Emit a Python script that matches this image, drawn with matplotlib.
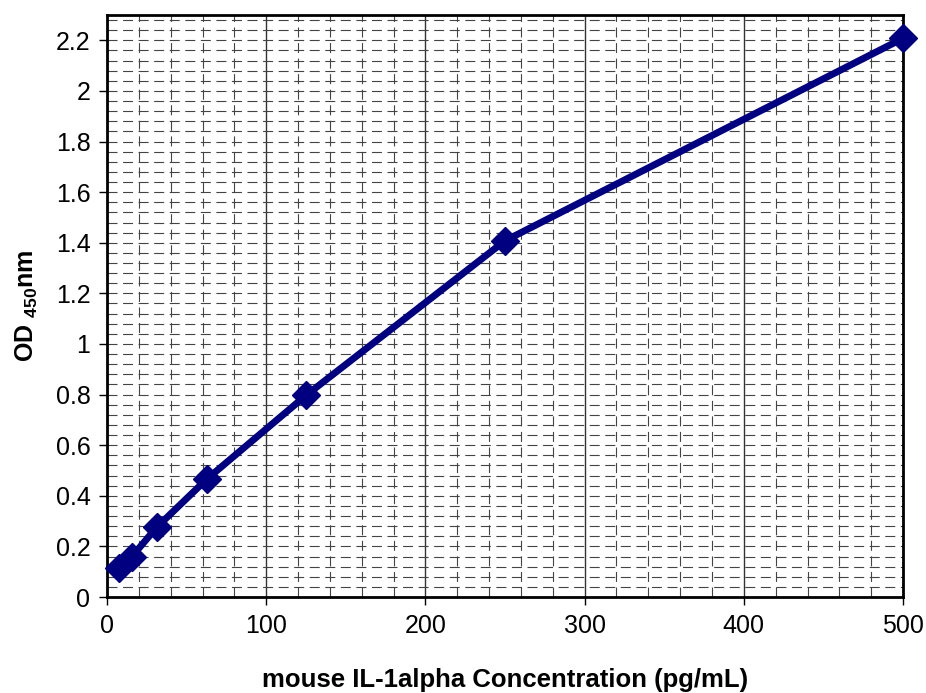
import matplotlib
matplotlib.use('Agg')
from matplotlib import pyplot as plt
from matplotlib.ticker import MultipleLocator
import numpy as np

plt.rcParams['font.family'] = ['Liberation Sans', 'DejaVu Sans']
plt.rcParams['mathtext.fontset'] = 'custom'
plt.rcParams['mathtext.rm'] = 'Liberation Sans'
plt.rcParams['mathtext.bf'] = 'Liberation Sans:bold'

# standard curve data
conc = [7.8, 15.6, 31.25, 62.5, 125, 250, 500]
od = [0.114, 0.160, 0.276, 0.465, 0.797, 1.408, 2.208]
yticks = [0, 0.2, 0.4, 0.6, 0.8, 1, 1.2, 1.4, 1.6, 1.8, 2, 2.2]

fig = plt.figure(figsize=(9.26, 6.93), dpi=100)
ax = fig.add_axes([0.1156, 0.1385, 0.8596, 0.8398])

ax.set_xlim(0, 500)
ax.set_ylim(0, 2.3)
ax.xaxis.set_major_locator(MultipleLocator(100))
ax.xaxis.set_minor_locator(MultipleLocator(20))
ax.yaxis.set_minor_locator(MultipleLocator(0.04))

# grid
ax.grid(which='minor', axis='both', color='#444444', linestyle=(0, (9, 5)), linewidth=0.8)
ax.grid(which='major', axis='y', color='#444444', linestyle=(0, (9, 5)), linewidth=0.8)
ax.grid(which='major', axis='x', color='#333333', linestyle='-', linewidth=1.0)
ax.set_axisbelow(True)

ax.plot(conc, od, color='#000080', linewidth=5, marker='D', markersize=14,
        clip_on=False, zorder=5)

for s in ax.spines.values():
    s.set_linewidth(2)
    s.set_color('black')

ax.tick_params(which='major', direction='out', length=6, width=1, labelsize=18, pad=6)
ax.tick_params(which='minor', length=0)

ax.set_yticks(yticks)
ax.set_yticklabels(['%g' % v for v in yticks])

ax.set_xlabel('mouse IL-1alpha Concentration (pg/mL)', fontsize=18.5, fontweight='bold', labelpad=22)
ax.set_ylabel(r'OD $_{\mathbf{450}}$nm', fontsize=18, fontweight='bold', labelpad=11)

fig.savefig('out.png', dpi=100)
